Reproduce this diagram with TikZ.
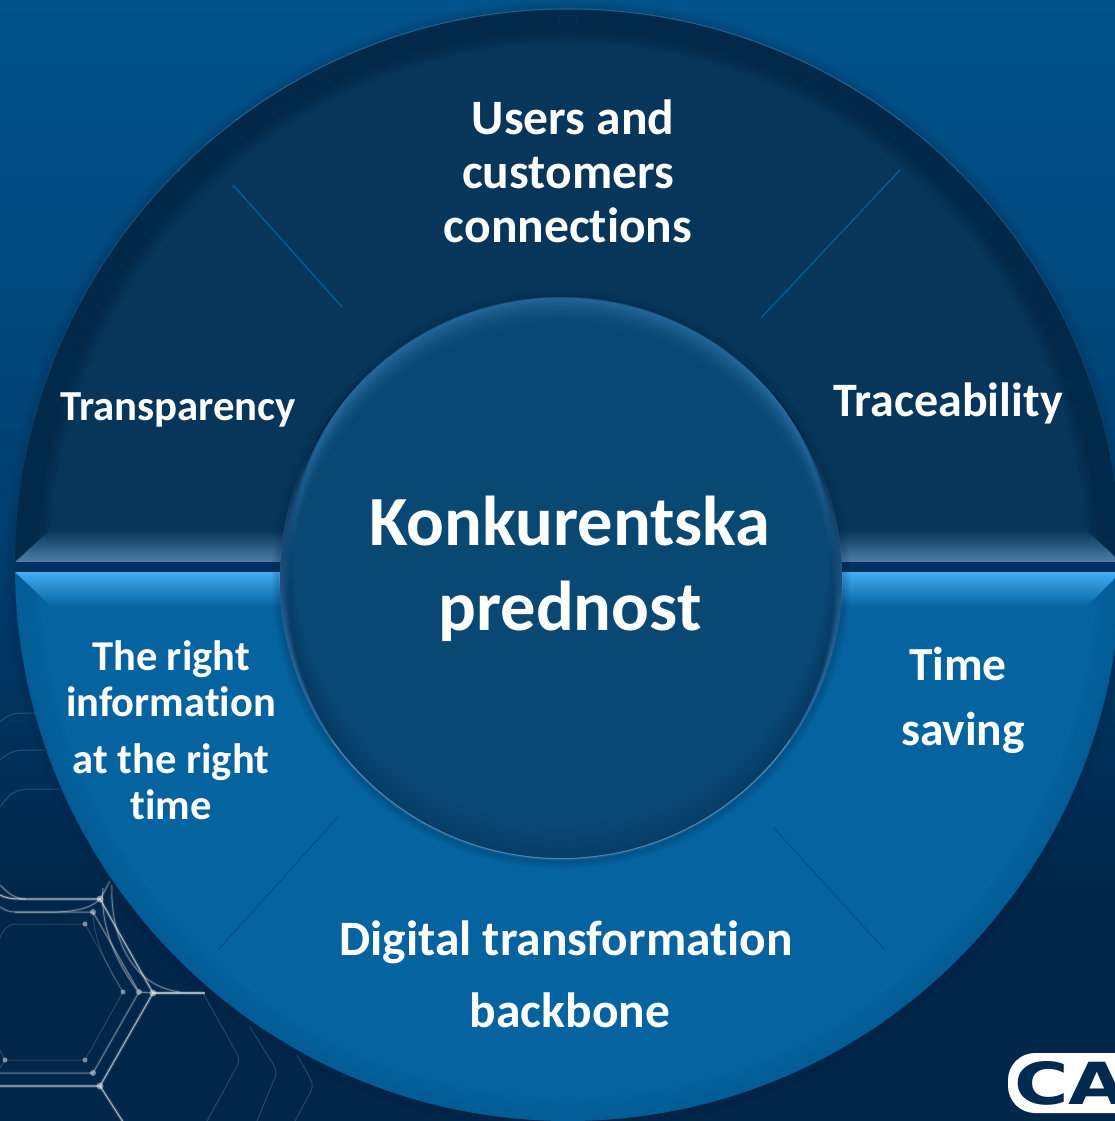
\documentclass[tikz,border=0pt]{standalone}
\usepackage{fontspec}
\setmainfont{Carlito}[Ligatures=NoCommon]
\newfontfamily\logofont{DejaVu Sans}
\usetikzlibrary{shadings}
\definecolor{bgtop}{HTML}{00538C}
\definecolor{bgmid}{HTML}{003F70}
\definecolor{bgbot}{HTML}{00264A}
\definecolor{upperfill}{HTML}{07365A}
\definecolor{lowerfill}{HTML}{05639F}
\definecolor{bandfill}{HTML}{00315F}
\definecolor{bevelup}{HTML}{4F7EA8}
\definecolor{bevellow}{HTML}{42AEF5}
\definecolor{diskfill}{HTML}{0A4874}
\definecolor{disklight}{HTML}{4A90CC}
\definecolor{rimdark}{HTML}{011E3C}
\definecolor{logodark}{HTML}{002A50}
\definecolor{spokeblue}{HTML}{05609E}
\definecolor{spokedark}{HTML}{04508A}
\tikzset{
  lab/.style={text=white,font=\bfseries,align=center,inner sep=0pt},
  hexbright/.style={preaction={draw=white,opacity=.13,line width=3.5pt},draw=white,opacity=.6,line width=1.1pt},
  hexmid/.style={preaction={draw=white,opacity=.08,line width=3pt},draw=white,opacity=.34,line width=1pt},
  hexdim/.style={draw=white,opacity=.16,line width=1pt},
  spoke/.style={line width=1.2pt},
  hexdot/.style={fill=white,opacity=.45},
  outerdisk/.style={x radius=553pt,y radius=556pt}
}
\begin{document}
\begin{tikzpicture}[x=1pt,y=-1pt,line join=round]
\useasboundingbox (0,0) rectangle (1115,1121);
\clip (0,0) rectangle (1115,1121);
% background
\fill[top color=bgtop,bottom color=bgmid] (0,0) rectangle (1115,520);
\fill[top color=bgmid,bottom color=bgbot] (0,520) rectangle (1115,900);
\fill[bgbot] (0,900) rectangle (1115,1121);
% hexagon mesh
\draw[hexbright] (0,895) .. controls (8,899) and (15,899) .. (25,899) -- (100,899) -- (153,993) -- (100,1086) -- (0,1086);
\draw[hexbright] (100,1086) -- (125,1125);
\draw[hexbright] (153,993) -- (205,993);
\draw[hexmid] (100,899) .. controls (104,893) and (106,888) .. (110,881);
\draw[hexmid] (0,907) .. controls (5,910) and (9,912) .. (15,912) -- (93,912) -- (139,992) -- (93,1073) -- (0,1073);
\draw[hexmid] (139,992) -- (153,993);
\draw[hexmid] (0,885) .. controls (8,893) and (15,899) .. (25,899);
\draw[hexmid] (15,912) .. controls (50,912) and (85,915) .. (100,899);
\draw[hexdim] (0,938) .. controls (3,930) and (8,924) .. (15,924) -- (85,924) -- (123,992) -- (85,1060) -- (5,1060);
\draw[hexdim] (0,1050) -- (5,1060) -- (0,1068);
\draw[hexmid] (112,885) .. controls (110,925) and (125,985) .. (180,992);
\draw[hexmid] (103,888) .. controls (100,925) and (115,960) .. (137,990);
\draw[hexdim] (93,912) .. controls (93,935) and (105,965) .. (123,992);
\draw[hexdim] (0,807) .. controls (8,795) and (15,789) .. (30,789) -- (60,789);
\draw[hexdim] (0,760) .. controls (8,753) and (15,750) .. (25,750) -- (45,750);
\draw[hexdim] (0,722) .. controls (6,716) and (12,713) .. (22,713) -- (35,713);
\draw[hexdim] (203,993) -- (235,1050) .. controls (240,1058) and (240,1062) .. (235,1070) -- (207,1121);
\draw[hexdim] (250,1027) -- (273,1064) .. controls (277,1070) and (277,1076) .. (273,1082) -- (257,1121);
\draw[hexdim] (297,1055) -- (310,1078) .. controls (313,1083) and (313,1088) .. (310,1093) -- (295,1121);
\foreach \px/\py/\pr in {100/899/3.5,153/993/3.5,100/1086/3.5,93/912/3,139/992/3,93/1073/3,85/924/2.5,123/992/2.5,85/1060/2.5,5/1060/2.5}
  \fill[hexdot] (\px,\py) circle[radius=\pr pt];
% shadow of the outer disk
\foreach \i in {1,...,9}
  \draw[rimdark,opacity={.16*(1-\i/10)},line width=1.3pt] (568,565) ellipse[x radius={553+\i pt},y radius={556+\i pt}];
% upper half
\begin{scope}
  \clip (0,0) rectangle (1115,562);
  \fill[upperfill] (568,565) ellipse[outerdisk];
  \begin{scope}
  \clip (568,565) ellipse[outerdisk];
  \foreach \i in {0,...,34}
    \draw[rimdark,opacity={.42*min(1,(35-\i)/14)},line width=1.3pt] (568,565) ellipse[x radius={553-\i pt},y radius={556-\i pt}];
  \shade[top color=upperfill,bottom color=bevelup] (15,562) -- (50,530) -- (1086,530) -- (1121,562) -- cycle;
  \end{scope}
  % light hairline that fades down the rim
  \foreach \ya/\yb/\op in {0/120/.55,120/170/.45,170/230/.36,230/300/.27,300/380/.18,380/460/.1}{
    \begin{scope}
      \clip (0,\ya) rectangle (1115,\yb);
      \draw[bevelup,opacity=\op,line width=1pt] (568,565) ellipse[outerdisk];
    \end{scope}
  }
\end{scope}
% lower half
\begin{scope}
  \clip (0,572) rectangle (1115,1121);
  \fill[lowerfill] (568,565) ellipse[outerdisk];
  \clip (568,565) ellipse[outerdisk];
  \foreach \i in {0,...,24}
    \draw[rimdark,opacity={.07*(1-\i/25)},line width=1.3pt] (568,565) ellipse[x radius={553-\i pt},y radius={556-\i pt}];
  \shade[top color=bevellow,bottom color=lowerfill] (15,572) -- (52,607) -- (1086,607) -- (1121,572) -- cycle;
\end{scope}
% band between the halves
\fill[bandfill] (15,562) rectangle (1115,572);
% spokes
\coordinate (s1a) at (233,185); \coordinate (s1b) at (342,307);
\coordinate (s2a) at (900,170); \coordinate (s2b) at (761,318);
\coordinate (s3a) at (338,817); \coordinate (s3b) at (218,950);
\coordinate (s4a) at (773,827); \coordinate (s4b) at (884,949);
\draw[spoke,color=spokeblue] (s1a) -- (s1b);
\draw[spoke,color=spokeblue] (s2a) -- (s2b);
\draw[spoke,color=spokedark] (s3a) -- (s3b);
\draw[spoke,color=spokedark] (s4a) -- (s4b);
% centre disk with soft shadow
\foreach \i in {1,...,8}
  \draw[rimdark,opacity={.22*(1-\i/9)},line width=1.2pt] (561,579) circle[radius={281+\i pt}];
\fill[diskfill] (561,578) circle[radius=281pt];
\begin{scope}
  \clip (561,578) circle[radius=281pt];
  % light crescent along the top
  \foreach \i in {0,...,18}
    \draw[disklight,opacity={.42*(1-\i/19)*(1-\i/19)},line width=1.7pt] (561,{578+\i}) circle[radius={281-\i*.6 pt}];
  % dark crescent along the bottom
  \foreach \i in {0,...,20}
    \draw[rimdark,opacity={.2*(1-\i/21)},line width=1.7pt] (561,{578-\i}) circle[radius={281-\i*.6 pt}];
\end{scope}
\begin{scope}
  \clip (200,740) rectangle (920,870);
  \draw[bevelup!70!white,opacity=.5,line width=1pt] (561,578) circle[radius=280.5pt];
\end{scope}
% labels
\node[lab,font=\bfseries\fontsize{49.5}{54}\selectfont] (users) at (568,171.5) {\hspace*{10pt}Users and\\customers\\connections};
\node[lab,font=\bfseries\fontsize{42.8}{46}\selectfont] (transp) at (178,410) {Transparency};
\node[lab,font=\bfseries\fontsize{48}{50}\selectfont] (trace) at (948,403) {Traceability};
\node[lab,font=\bfseries\fontsize{70.5}{85}\selectfont] (center) at (570,568.5) {Konkurentska\\prednost};
\node[lab,font=\bfseries\fontsize{42.5}{46}\selectfont] (right) at (171,730) {The right\\information\\[11pt]at the right\\time};
\node[lab,font=\bfseries\fontsize{47.5}{65}\selectfont] (time) at (958,700.5) {Time\\\hspace*{10pt}saving};
\node[lab,font=\bfseries\fontsize{49.5}{72}\selectfont] (digital) at (566,974) {Digital transformation\\\hspace*{8pt}backbone};
% logo
\fill[white,rounded corners=27pt] (1008,1053) rectangle (1180,1113);
\node[anchor=base west,inner sep=0pt,text=logodark,font=\logofont\bfseries\fontsize{58}{58}\selectfont,xscale=1.28,transform shape] (logo) at (1014,1104) {CA};
\end{tikzpicture}
\end{document}
